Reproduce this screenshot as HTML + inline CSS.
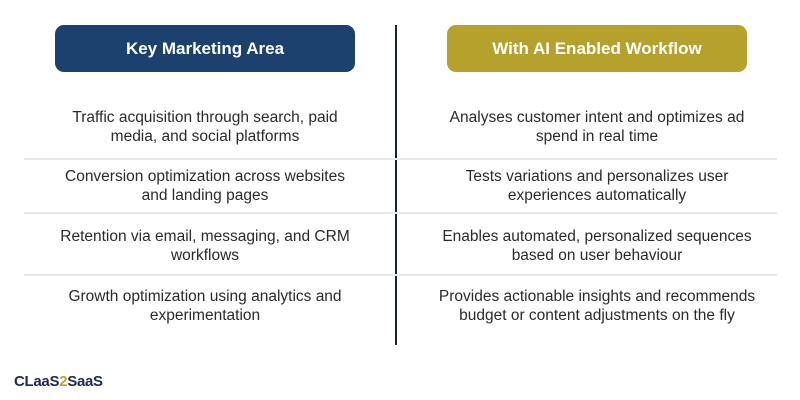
<!DOCTYPE html>
<html><head><meta charset="utf-8"><style>
body{margin:0;width:800px;height:400px;background:#fff;position:relative;overflow:hidden;font-family:"Liberation Sans",sans-serif;}
.h{position:absolute;top:25px;height:47px;width:300px;border-radius:9px;color:#fff;font-weight:bold;font-size:17px;display:flex;align-items:center;justify-content:center;}
.sep{position:absolute;left:24px;width:753px;height:2px;background:#e8e8e8;}
.t{position:absolute;width:360px;text-align:center;font-size:15.5px;line-height:19px;color:#2a2a2a;}
.l{left:25px}.r{left:417px}
</style></head><body>
<div class="h" style="left:55px;background:#1d416f">Key Marketing Area</div>
<div class="h" style="left:447px;background:#b5a12b">With AI Enabled Workflow</div>
<div style="position:absolute;left:395px;top:25px;width:2px;height:320px;background:#1a2333"></div>
<div class="sep" style="top:158px"></div>
<div class="sep" style="top:212px"></div>
<div class="sep" style="top:274px"></div>
<div class="t l" style="top:108px">Traffic acquisition through search, paid<br>media, and social platforms</div>
<div class="t r" style="top:108px">Analyses customer intent and optimizes ad<br>spend in real time</div>
<div class="t l" style="top:167px">Conversion optimization across websites<br>and landing pages</div>
<div class="t r" style="top:167px">Tests variations and personalizes user<br>experiences automatically</div>
<div class="t l" style="top:227px">Retention via email, messaging, and CRM<br>workflows</div>
<div class="t r" style="top:227px">Enables automated, personalized sequences<br>based on user behaviour</div>
<div class="t l" style="top:287px">Growth optimization using analytics and<br>experimentation</div>
<div class="t r" style="top:287px">Provides actionable insights and recommends<br>budget or content adjustments on the fly</div>
<div style="position:absolute;left:14px;top:373px;font-weight:bold;font-size:15px;color:#1d2a55;letter-spacing:-0.3px">CLaaS<span style="color:#c3a322">2</span>SaaS</div>
</body></html>
